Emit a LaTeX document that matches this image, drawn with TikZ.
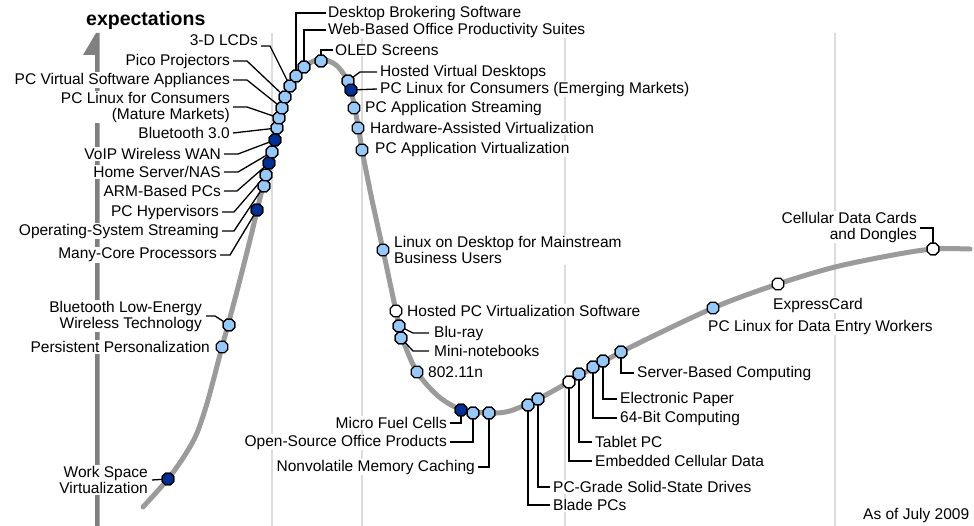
\documentclass[tikz,border=0pt]{standalone}
\usepackage{fontspec}
\setmainfont{Liberation Sans}
\usetikzlibrary{shapes.geometric}
\definecolor{lightdot}{RGB}{150,200,250}
\definecolor{darkdot}{RGB}{0,48,150}
\definecolor{curvegray}{RGB}{155,155,155}
\definecolor{axisgray}{RGB}{128,128,128}
\definecolor{phasegray}{RGB}{220,220,220}
\begin{document}
\begin{tikzpicture}[x=1pt,y=-1pt,
  lbl/.style={font=\fontsize{15.5}{16}\selectfont, inner sep=1pt, fill=white},
  lbll/.style={lbl, anchor=east, align=right},
  lblr/.style={lbl, anchor=west, align=left},
  ldr/.style={draw=black, line width=1.3pt},
  mk/.style={regular polygon, regular polygon sides=8, draw=black, line width=1.2pt,
    minimum size=12.5pt, inner sep=0pt},
  lb/.style={mk, fill=lightdot},
  db/.style={mk, fill=darkdot},
  wh/.style={mk, fill=white}]
\useasboundingbox (0,0) rectangle (974,526);

% phase separators
\foreach \xx in {272,362,565,835}
  \draw[phasegray, line width=2.5pt] (\xx,33) -- (\xx,526);

% expectations axis with half arrow head
\fill[axisgray] (96,33) -- (99.5,33) -- (99.5,526) -- (95,526) -- (95,55) -- (83,55) -- cycle;
\node[anchor=west, font=\fontsize{19.5}{20}\selectfont\bfseries, inner sep=0pt] (yl) at (86,20) {expectations};

% labels on the rising slope
\node[lblr] (tdbs) at (327,13) {Desktop Brokering Software};
\node[lblr] (tweb) at (327,30) {Web-Based Office Productivity Suites};
\node[lblr] (toled) at (334,50) {OLED Screens};
\node[lbll] (t3d) at (259,40) {3-D LCDs};
\node[lbll] (tpico) at (231,61) {Pico Projectors};
\node[lbll] (tpcv) at (231,80) {PC Virtual Software Appliances};
\node[lbll] (tplm) at (231,107) {PC Linux for Consumers\\(Mature Markets)};
\node[lbll] (tbt3) at (231,133) {Bluetooth 3.0};
\node[lbll] (tvoip) at (222,154) {VoIP Wireless WAN};
\node[lbll] (thome) at (222,172) {Home Server/NAS};
\node[lbll] (tarm) at (222,191) {ARM-Based PCs};
\node[lbll] (thyp) at (220,212) {PC Hypervisors};
\node[lbll] (tos) at (220,231) {Operating-System Streaming};
\node[lbll] (tmany) at (218,255) {Many-Core Processors};
\node[lbll] (tble) at (203,316) {Bluetooth Low-Energy\\Wireless Technology};
\node[lbll] (tpers) at (211,347) {Persistent Personalization};
\node[lbll] (twork) at (149,480) {Work Space\\Virtualization};

% labels on the falling slope and in the trough
\node[lblr] (thvd) at (379,72) {Hosted Virtual Desktops};
\node[lblr] (tple) at (379,89) {PC Linux for Consumers (Emerging Markets)};
\node[lblr] (tpas) at (364,108) {PC Application Streaming};
\node[lblr] (thav) at (369,128) {Hardware-Assisted Virtualization};
\node[lblr] (tpav) at (374,149) {PC Application Virtualization};
\node[lblr] (tlin) at (393,250) {Linux on Desktop for Mainstream\\Business Users};
\node[lblr] (thpc) at (406,311) {Hosted PC Virtualization Software};
\node[lblr] (tblu) at (433,333) {Blu-ray};
\node[lblr] (tmini) at (433,351) {Mini-notebooks};
\node[lblr] (t80211) at (427,372) {802.11n};
\node[lbll] (tmfc) at (448,423) {Micro Fuel Cells};
\node[lbll] (toso) at (448,442) {Open-Source Office Products};
\node[lbll] (tnvm) at (476,467) {Nonvolatile Memory Caching};

% labels on the slope of enlightenment and beyond
\node[lblr] (tblade) at (552,505) {Blade PCs};
\node[lblr] (tssd) at (552,487) {PC-Grade Solid-State Drives};
\node[lblr] (temb) at (594,461) {Embedded Cellular Data};
\node[lblr] (ttab) at (594,442) {Tablet PC};
\node[lblr] (t64) at (619,418) {64-Bit Computing};
\node[lblr] (tepa) at (619,399) {Electronic Paper};
\node[lblr] (tsbc) at (636,373) {Server-Based Computing};
\node[lblr] (tdata) at (707,327) {PC Linux for Data Entry Workers};
\node[lblr] (texp) at (772,305) {ExpressCard};
\node[lbll] (tcell) at (918,227) {Cellular Data Cards\\and Dongles};
\node[lblr, fill=none] (tdate) at (862,515) {As of July 2009};

% the hype curve
\draw[curvegray, line width=5pt, line cap=round] plot[smooth, tension=0.5] coordinates {
  (143,507) (168,479) (185,455) (197,433) (208,400) (222,347) (236,295)
  (250,240) (262,190) (272,152) (282,108) (292,82) (305,66) (321,59)
  (336,65) (346,78) (352,95) (357,120) (363,155) (372,200) (383,250)
  (396,311) (403,340) (417,372) (438,396) (460,409) (489,413) (510,411)
  (538,399) (569,382) (621,352) (713,308) (778,284) (835,267) (893,255)
  (933,249) (970,249)};

% technology markers
\node[lb] (mdbs) at (296,76) {};
\node[lb] (mweb) at (304,67) {};
\node[lb] (moled) at (321,61) {};
\node[lb] (m3d) at (290,86) {};
\node[lb] (mpico) at (285,97) {};
\node[lb] (mpcv) at (282,108) {};
\node[lb] (mplm) at (279,118) {};
\node[lb] (mbt3) at (277,128) {};
\node[db] (mvoip) at (275,140) {};
\node[lb] (mhome) at (272,152) {};
\node[db] (marm) at (269,163) {};
\node[lb] (mhyp) at (266,175) {};
\node[lb] (mos) at (264,186) {};
\node[db] (mmany) at (257,210) {};
\node[lb] (mble) at (229,325) {};
\node[lb] (mpers) at (222,347) {};
\node[db] (mwork) at (168,479) {};
\node[lb] (mhvd) at (348,81) {};
\node[db] (mple) at (351,90) {};
\node[lb] (mpas) at (354,108) {};
\node[lb] (mhav) at (358,128) {};
\node[lb] (mpav) at (362,150) {};
\node[lb] (mlin) at (383,250) {};
\node[wh] (mhpc) at (396,311) {};
\node[lb] (mblu) at (399,326) {};
\node[lb] (mmini) at (401,338) {};
\node[lb] (m80211) at (417,372) {};
\node[db] (mmfc) at (461,410) {};
\node[lb] (moso) at (473,413) {};
\node[lb] (mnvm) at (489,413) {};
\node[lb] (mblade) at (528,405) {};
\node[lb] (mssd) at (538,399) {};
\node[wh] (memb) at (569,382) {};
\node[lb] (mtab) at (579,374) {};
\node[lb] (m64) at (593,367) {};
\node[lb] (mepa) at (603,361) {};
\node[lb] (msbc) at (621,352) {};
\node[lb] (mdata) at (713,308) {};
\node[wh] (mexp) at (778,284) {};
\node[wh] (mcell) at (933,249) {};

% leader lines
\draw[ldr] ([xshift=-1pt]tdbs.west) -| (mdbs.center);
\draw[ldr] ([xshift=-1pt]tweb.west) -| (mweb.center);
\draw[ldr] ([xshift=-1pt]toled.west) -| (moled.center);
\draw[ldr] ([xshift=2pt,yshift=-6pt]t3d.east) -- ++(9,0) -- (m3d.center);
\draw[ldr] ([xshift=2pt]tpico.east) -- ++(14,0) -- (mpico.center);
\draw[ldr] ([xshift=2pt]tpcv.east) -- ++(14,0) -- (mpcv.center);
\draw[ldr] ([xshift=2pt]tplm.east) -- ++(14,0) -- (mplm.center);
\draw[ldr] ([xshift=2pt]tbt3.east) -- (mbt3.center);
\draw[ldr] ([xshift=2pt]tvoip.east) -- ++(14,0) -- (mvoip.center);
\draw[ldr] ([xshift=2pt]thome.east) -- ++(14,0) -- (mhome.center);
\draw[ldr] ([xshift=2pt]tarm.east) -- ++(13,0) -- (marm.center);
\draw[ldr] ([xshift=2pt]thyp.east) -- ++(12,0) -- (mhyp.center);
\draw[ldr] ([xshift=2pt]tos.east) -- ++(12,0) -- (mos.center);
\draw[ldr] ([xshift=2pt]tmany.east) -- ++(10,0) -- (mmany.center);
\draw[ldr] ([xshift=3pt]tble.east) -- ++(9,0) -- (mble.center);
\draw[ldr] ([xshift=3pt]twork.east) -- (mwork.center);
\draw[ldr] ([xshift=-2pt]thvd.west) -- ++(-17,0) -- (mhvd.center);
\draw[ldr] ([xshift=-2pt]tple.west) -- (mple.center);
\draw[ldr] ([xshift=-4pt]tblu.west) -- ++(-16,0) -- (mblu.center);
\draw[ldr] ([xshift=-4pt]tmini.west) -- ++(-16,0) -- (mmini.center);
\draw[ldr] ([xshift=2pt]tmfc.east) -| (mmfc.center);
\draw[ldr] ([xshift=2pt]toso.east) -| (moso.center);
\draw[ldr] ([xshift=2pt]tnvm.east) -| (mnvm.center);
\draw[ldr] ([xshift=-2pt]tblade.west) -| (mblade.center);
\draw[ldr] ([xshift=-2pt]tssd.west) -| (mssd.center);
\draw[ldr] ([xshift=-2pt]temb.west) -| (memb.center);
\draw[ldr] ([xshift=-2pt]ttab.west) -| (mtab.center);
\draw[ldr] ([xshift=-2pt]t64.west) -| (m64.center);
\draw[ldr] ([xshift=-2pt]tepa.west) -| (mepa.center);
\draw[ldr] ([xshift=-2pt]tsbc.west) -| (msbc.center);
\draw[ldr] ([xshift=2pt,yshift=-1pt]tcell.east) -| (mcell.center);

% markers stacked bottom to top along the rising slope so each sits above its leader
\foreach \m/\s in {mmany/db,mos/lb,mhyp/lb,marm/db,mhome/lb,mvoip/db,mbt3/lb,mplm/lb,
  mpcv/lb,mpico/lb,m3d/lb,mdbs/lb,mweb/lb,moled/lb,mble/lb,mwork/db,mhvd/lb,mple/db,
  mblu/lb,mmini/lb,mmfc/db,moso/lb,mnvm/lb,mblade/lb,mssd/lb,memb/wh,mtab/lb,m64/lb,
  mepa/lb,msbc/lb,mcell/wh}
  \node[\s] at (\m) {};
\end{tikzpicture}
\end{document}
